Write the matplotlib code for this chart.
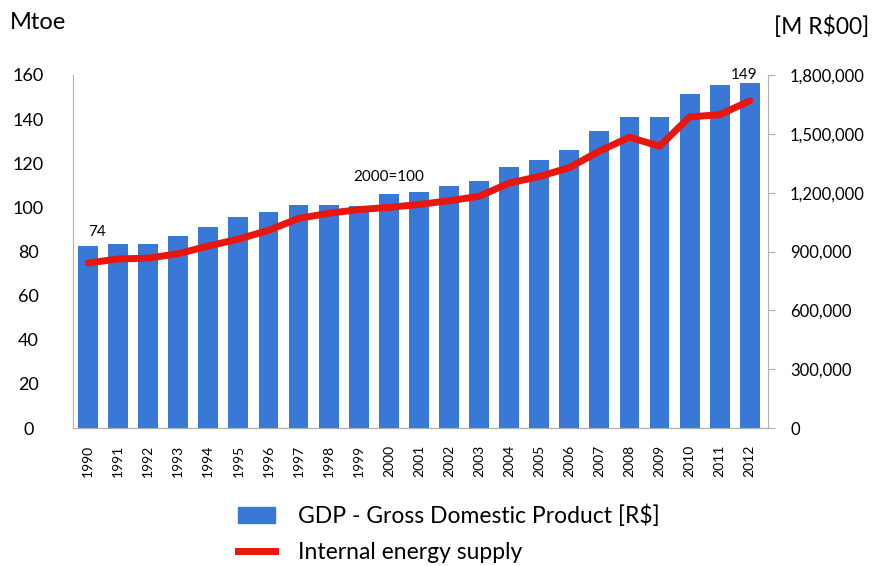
import matplotlib.pyplot as plt
from matplotlib.patches import Patch
from matplotlib.lines import Line2D

plt.rcParams['font.family'] = ['Lato', 'DejaVu Sans']

years = [str(y) for y in range(1990, 2013)]
gdp = [926000, 936000, 936000, 977000, 1024000, 1076000, 1102000, 1138000,
       1138000, 1133000, 1195000, 1205000, 1236000, 1257000, 1329000, 1365000,
       1417000, 1515000, 1588000, 1588000, 1702000, 1748000, 1758000]
energy = [74.8, 76.6, 77, 79, 82.5, 85.6, 89.6, 95, 97.3, 99, 100, 101.3,
          103, 105, 111, 114, 118, 125.5, 131.8, 127.7, 141, 142, 148.3]

bar_color = '#3a78d8'
line_color = '#e8160c'
grey = '#b0b0b0'

fig = plt.figure(figsize=(8.74, 5.66), dpi=100)
ax = fig.add_axes([0.0835, 0.2438, 0.795, 0.6237])
ax2 = ax.twinx()

x = list(range(len(years)))
ax2.bar(x, gdp, width=0.66, color=bar_color)
ax.plot(x, energy, color=line_color, linewidth=5, solid_capstyle='round')

# line above bars
ax.set_zorder(ax2.get_zorder() + 1)
ax.patch.set_visible(False)

ax.set_xlim(-0.5, 22.6)
ax.set_ylim(0, 160)
ax2.set_ylim(0, 1800000)

ax.set_yticks(range(0, 161, 20))
ax.tick_params(axis='y', length=0, labelsize=13, pad=32)
for lab in ax.get_yticklabels():
    lab.set_horizontalalignment('center')

ax2.set_yticks(range(0, 1800001, 300000))
ax2.set_yticklabels(['0', '300,000', '600,000', '900,000', '1,200,000',
                     '1,500,000', '1,800,000'])
ax2.tick_params(axis='y', length=5, color=grey, labelsize=12, pad=11)

ax.set_xticks(x)
ax.set_xticklabels(years, rotation=90, fontsize=10)
ax.tick_params(axis='x', length=0, pad=12)

for a in (ax, ax2):
    a.spines['top'].set_visible(False)
    for s in ('left', 'right', 'bottom'):
        a.spines[s].set_color(grey)
ax.spines['right'].set_visible(False)
ax2.spines['left'].set_visible(False)

ax.text(0.3, 87, '74', fontsize=11, ha='center')
ax.text(10, 112, '2000=100', fontsize=11, ha='center')
ax.text(21.8, 158, '149', fontsize=11, ha='center')

fig.text(0.011, 0.96, 'Mtoe', fontsize=17, va='center')
fig.text(0.886, 0.952, '[M R$00]', fontsize=16.5, va='center')

handles = [Patch(color=bar_color), Line2D([0], [0], color=line_color, linewidth=5)]
fig.legend(handles, ['GDP - Gross Domestic Product [R$]', 'Internal energy supply'],
           loc='upper left', bbox_to_anchor=(0.262, 0.124), frameon=False,
           fontsize=16.5, handlelength=1.6, handletextpad=1.0, labelspacing=0.65,
           borderaxespad=0)

fig.savefig('out.png', dpi=100)
